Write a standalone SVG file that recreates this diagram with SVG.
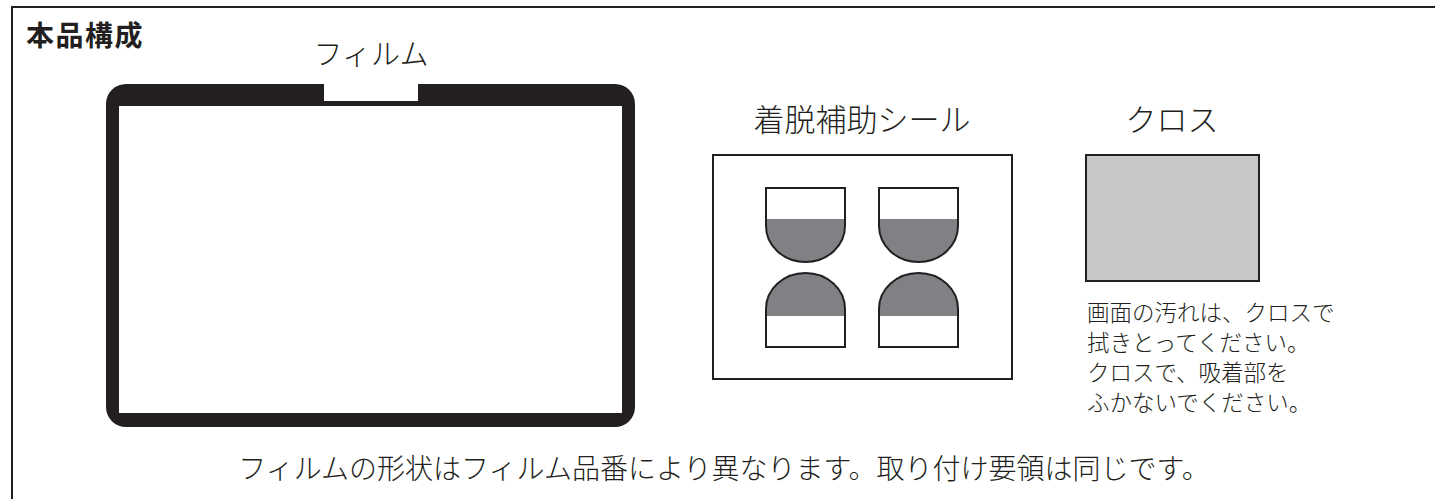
<svg xmlns="http://www.w3.org/2000/svg" width="1435" height="499" viewBox="0 0 1435 499">
<style>
.t{font-family:"Noto Sans CJK JP","Noto Sans CJK SC",sans-serif;font-weight:300;fill:#231f20}
.b{font-weight:700}
.ln{fill:none;stroke:#231f20;stroke-width:2}
.gray{fill:#808184}
</style>
<rect width="1435" height="499" fill="#fff"/>
<g id="frame">
<path class="ln" d="M12 499 V7 H1435" stroke-width="2.5"/>
<text class="t b" x="26" y="46" font-size="28" letter-spacing="1.5">本品構成</text>
</g>
<g id="film">
<text class="t" x="371" y="65" font-size="29" text-anchor="middle">フィルム</text>
<path fill="#231f20" fill-rule="evenodd" d="M126 84 H324 V101 H418 V84 H615 A20 20 0 0 1 635 104 V407 A20 20 0 0 1 615 427 H126 A20 20 0 0 1 106 407 V104 A20 20 0 0 1 126 84 Z M119 106 V413 H622 V106 Z"/>
</g>
<g id="sticker-sheet">
<text class="t" x="862" y="131" font-size="31" text-anchor="middle">着脱補助シール</text>
<rect class="ln" x="713" y="155" width="299" height="224"/>
<defs>
<clipPath id="ct"><path d="M0 0 H79 V38 A39.5 36 0 0 1 0 38 Z"/></clipPath>
<g id="stk">
<path d="M0 0 H79 V38 A39.5 36 0 0 1 0 38 Z" fill="#fff"/>
<rect class="gray" x="0" y="31" width="79" height="45" clip-path="url(#ct)"/>
<path class="ln" d="M0 0 H79 V38 A39.5 36 0 0 1 0 38 Z"/>
</g>
</defs>
<use href="#stk" x="766" y="188"/>
<use href="#stk" x="879" y="188"/>
<use href="#stk" transform="translate(766 347) scale(1 -1)"/>
<use href="#stk" transform="translate(879 347) scale(1 -1)"/>
</g>
<g id="cloth">
<text class="t" x="1172" y="131" font-size="31" text-anchor="middle">クロス</text>
<rect x="1086" y="155" width="173" height="126" fill="#c6c7c9" stroke="#231f20" stroke-width="2"/>
<text class="t" font-size="22.5">
<tspan x="1087" y="321">画面の汚れは、クロスで</tspan>
<tspan x="1087" y="351">拭きとってください。</tspan>
<tspan x="1087" y="381">クロスで、吸着部を</tspan>
<tspan x="1087" y="411">ふかないでください。</tspan>
</text>
</g>
<g id="note">
<text class="t" x="724" y="479" font-size="28" text-anchor="middle">フィルムの形状はフィルム品番により異なります。取り付け要領は同じです。</text>
</g>
<g id="connectors"></g>
</svg>
